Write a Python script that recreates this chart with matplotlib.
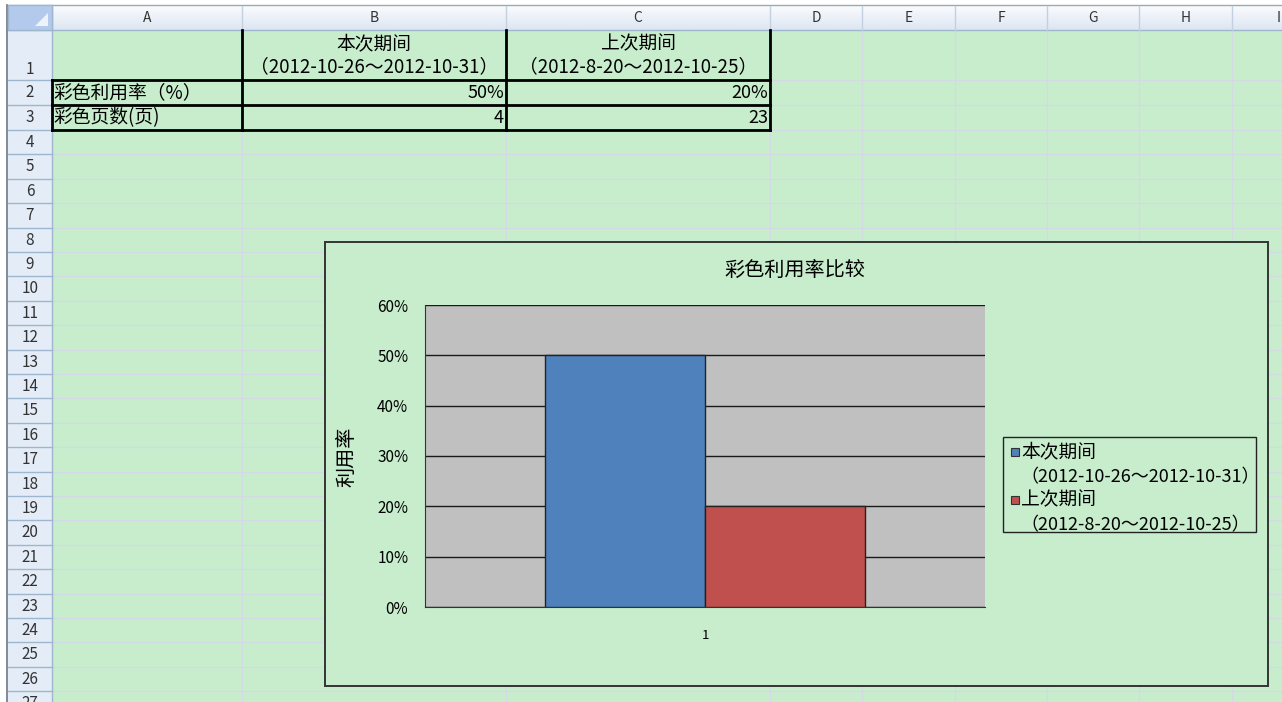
import numpy as np
import matplotlib.pyplot as plt
from matplotlib.patches import Rectangle, Polygon
from matplotlib.colors import LinearSegmentedColormap

plt.rcParams['font.family'] = ['Noto Sans CJK SC', 'DejaVu Sans']

# data
col_letters = ['A', 'B', 'C', 'D', 'E', 'F', 'G', 'H', 'I']
period_names = ['本次期间', '上次期间']
period_ranges = ['（2012-10-26～2012-10-31）', '（2012-8-20～2012-10-25）']
row_names = ['彩色利用率（%）', '彩色页数(页)']
color_rate = [50, 20]      # %
color_pages = [4, 23]
category = ['1']
chart_title = '彩色利用率比较'
y_label = '利用率'
y_ticks = [0, 10, 20, 30, 40, 50, 60]

# sheet geometry in screen pixels
col_edges = [52, 242, 506, 770, 862, 955, 1047, 1139, 1232, 1325]
row_edges = [30, 80, 105, 130] + [130 + 24.4 * k for k in range(1, 25)]
green = '#C7EDCC'
grid_c = '#D3DAE6'
head_line = '#9EB6CE'
bar_colors = ['#4F81BD', '#C0504D']

fig = plt.figure(figsize=(12.82, 7.02), dpi=100)
fig.patch.set_facecolor('white')
sh = fig.add_axes([0, 0, 1, 1])
sh.set_xlim(0, 1282)
sh.set_ylim(702, 0)
sh.axis('off')

# cell area
sh.add_patch(Rectangle((52, 30), 1282 - 52, 702 - 30, facecolor=green, edgecolor='none'))
for x in col_edges[1:]:
    sh.plot([x, x], [30, 702], color=grid_c, lw=1)
for y in row_edges[1:]:
    sh.plot([52, 1282], [y, y], color=grid_c, lw=1)

# column header
cmap = LinearSegmentedColormap.from_list('hd', ['#FAFCFE', '#DDE6F2'])
sh.imshow(np.linspace(0, 1, 20).reshape(-1, 1), cmap=cmap, aspect='auto',
          extent=(52, 1282, 30, 5), zorder=1)
sh.plot([8, 1282], [5, 5], color='#A0A8B4', lw=1, zorder=2)
sh.plot([8, 1282], [30, 30], color=head_line, lw=1, zorder=2)
for i, letter in enumerate(col_letters):
    x0, x1 = col_edges[i], col_edges[i + 1]
    sh.plot([x1, x1], [6, 30], color='#C3D0E0', lw=1, zorder=2)
    sh.text((x0 + x1) / 2, 18, letter, ha='center', va='center', fontsize=10,
            color='#333333', zorder=3)

# row header
sh.add_patch(Rectangle((8, 30), 44, 702 - 30, facecolor='#E4ECF7', edgecolor='none', zorder=1))
sh.plot([52, 52], [5, 702], color=head_line, lw=1, zorder=2)
sh.plot([7, 7], [5, 702], color='#6E7480', lw=1.2, zorder=2)
for y in row_edges[1:]:
    sh.plot([8, 52], [y, y], color=head_line, lw=1, zorder=2)
for r in range(1, 28):
    if r == 1:
        yc = 69
    else:
        yc = 130 + 24.4 * (r - 4) + 12.5 if r >= 4 else (row_edges[r - 1] + row_edges[r]) / 2
    sh.text(30, yc, str(r), ha='center', va='center', fontsize=11, color='#333333', zorder=3)

# corner cell
sh.add_patch(Rectangle((8, 5), 44, 25, facecolor='#B3CAEC', edgecolor=head_line, lw=1, zorder=2))
sh.add_patch(Polygon([(35, 26), (48, 26), (48, 13)], closed=True, facecolor='#EEF3FA',
                     edgecolor='none', zorder=3))

# table contents
for i in range(2):
    x0, x1 = col_edges[i + 1], col_edges[i + 2]
    sh.text((x0 + x1) / 2, 44, period_names[i], ha='center', va='center', fontsize=13.5)
    sh.text((x0 + x1) / 2, 67, period_ranges[i], ha='center', va='center', fontsize=13.5)
    sh.text(x1 - 2, 93, f'{color_rate[i]}%', ha='right', va='center', fontsize=13)
    sh.text(x1 - 2, 118, str(color_pages[i]), ha='right', va='center', fontsize=13)
for j, name in enumerate(row_names):
    sh.text(53, 93 + 25 * j, name, ha='left', va='center', fontsize=13.5)

# thick borders
for x in col_edges[1:4]:
    sh.plot([x, x], [30, 130], color='black', lw=2, zorder=4)
sh.plot([52, 52], [80, 130], color='black', lw=2, zorder=4)
for y in [80, 105, 130]:
    sh.plot([52, 770], [y, y], color='black', lw=2, zorder=4)

# chart area
sh.add_patch(Rectangle((325, 242), 943, 444, facecolor=green, edgecolor='#333333',
                       lw=1.4, zorder=5))
sh.text(795, 270, chart_title, ha='center', va='center', fontsize=14.5, zorder=6)

# legend
sh.add_patch(Rectangle((1003, 437), 253, 95, facecolor='none', edgecolor='#222222',
                       lw=1, zorder=6))
for i in range(2):
    yy = 452 + 48 * i
    sh.add_patch(Rectangle((1011, yy - 4), 8, 8, facecolor=bar_colors[i],
                           edgecolor='#333333', lw=0.8, zorder=7))
    sh.text(1021, yy, period_names[i], ha='left', va='center', fontsize=13.5, zorder=7)
    sh.text(1020, yy + 25, period_ranges[i], ha='left', va='center', fontsize=13, zorder=7)

# plot area
ax = fig.add_axes([425 / 1282, 95 / 702, 560 / 1282, 302 / 702], zorder=10)
ax.set_facecolor('#C0C0C0')
cx = np.arange(len(category))
bw = 160 / 560
for i in range(2):
    ax.bar(cx + (i - 0.5) * bw, [color_rate[i]], bw, color=bar_colors[i],
           edgecolor='#222222', lw=1, zorder=3)
ax.set_xlim(-0.5, len(category) - 0.5)
ax.set_ylim(0, 60)
ax.set_yticks(y_ticks)
ax.set_yticklabels([f'{t}%' for t in y_ticks], fontsize=11)
ax.set_xticks(cx)
ax.set_xticklabels(category, fontsize=9.5)
ax.tick_params(length=0)
ax.tick_params(axis='y', pad=12)
ax.tick_params(axis='x', pad=16)
ax.yaxis.grid(True, color='#1A1A1A', lw=1)
ax.set_axisbelow(True)
for s in ['top', 'right']:
    ax.spines[s].set_visible(False)
for s in ['left', 'bottom']:
    ax.spines[s].set_color('#333333')
ax.set_ylabel(y_label, fontsize=14.5)
ax.yaxis.set_label_coords(-0.121, 0.497)

fig.savefig('out.png', dpi=100)
